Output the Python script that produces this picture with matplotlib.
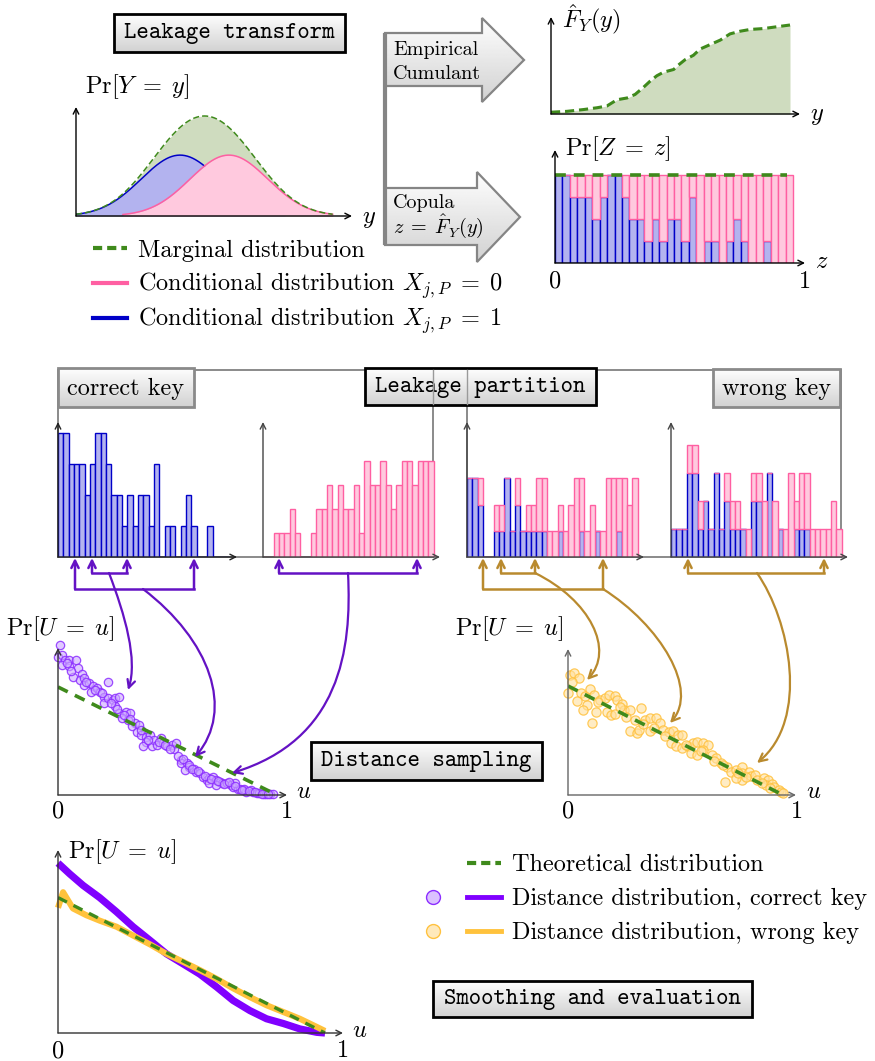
import numpy as np
import matplotlib
matplotlib.use('Agg')
import matplotlib.pyplot as plt
from matplotlib.patches import Polygon, Rectangle, FancyArrowPatch
from matplotlib.path import Path

# ---------------------------------------------------------------- data
# conditional leakage distributions (Gaussian parameters, y axis in [0,1])
COND_MEAN_X0 = 0.554
COND_MEAN_X1 = 0.377
COND_SIGMA = 0.141
COND_RANGE_X0 = (0.17, 0.93)
COND_RANGE_X1 = (0.0, 0.757)

# empirical cumulant F_Y(y)
CDF_Y = [0.0, 0.067, 0.136, 0.192, 0.234, 0.276, 0.318, 0.352, 0.387, 0.415, 0.443,
         0.471, 0.513, 0.533, 0.561, 0.596, 0.624, 0.666, 0.708, 0.749, 0.791, 0.833,
         0.889, 0.944, 1.0]
CDF_F = [0.02, 0.03, 0.05, 0.07, 0.09, 0.16, 0.18, 0.22, 0.30, 0.37, 0.43, 0.47, 0.50,
         0.55, 0.61, 0.66, 0.73, 0.78, 0.83, 0.90, 0.93, 0.95, 0.96, 0.98, 1.0]

# copula histogram counts (32 bins): correct key partition
CORRECT_X1 = [4, 4, 3, 3, 3, 2, 3, 4, 4, 3, 2, 2, 1, 2, 1, 2, 2, 1, 3, 0, 1, 1, 0, 1, 2, 1, 0, 0, 1, 0, 0, 0]
CORRECT_X0 = [0, 0, 1, 1, 1, 2, 1, 0, 0, 1, 2, 2, 3, 2, 3, 2, 2, 3, 1, 4, 3, 3, 4, 3, 2, 3, 4, 4, 3, 4, 4, 4]
# wrong key partition (two classes, each stacked X=1 / X=0)
WRONG_A_X1 = [3, 3, 2, 0, 0, 1, 1, 3, 1, 2, 1, 1, 1, 1, 1, 0, 0, 1, 0, 0, 0, 1, 0, 0, 1, 0, 0, 0, 1, 0, 0, 0]
WRONG_A_X0 = [0, 0, 1, 0, 0, 1, 1, 0, 0, 1, 0, 1, 1, 2, 2, 1, 1, 1, 1, 2, 3, 2, 1, 2, 0, 1, 3, 3, 2, 3, 2, 3]
WRONG_B_X1 = [1, 1, 1, 3, 3, 1, 2, 1, 3, 1, 2, 1, 1, 1, 0, 2, 2, 0, 3, 0, 1, 0, 0, 1, 1, 1, 0, 0, 0, 0, 0, 0]
WRONG_B_X0 = [0, 0, 0, 1, 1, 1, 0, 0, 0, 0, 1, 1, 1, 0, 1, 1, 1, 2, 0, 2, 0, 1, 3, 1, 2, 2, 1, 1, 1, 1, 2, 1]

# theoretical distance distribution
THEORY_U = [0.0, 1.0]
THEORY_P = [2.0, 0.0]

# sampled distances, correct key
CK_U = [0.01, 0.00, 0.02, 0.03, 0.02, 0.05, 0.08, 0.05, 0.09, 0.07, 0.11, 0.10, 0.12, 0.12, 0.14,
        0.16, 0.15, 0.18, 0.19, 0.23, 0.21, 0.21, 0.23, 0.25, 0.26, 0.28, 0.26, 0.28, 0.31, 0.33,
        0.29, 0.32, 0.35, 0.34, 0.37, 0.36, 0.38, 0.40, 0.42, 0.40, 0.39, 0.43, 0.44, 0.47, 0.45,
        0.48, 0.50, 0.52, 0.53, 0.54, 0.56, 0.56, 0.59, 0.60, 0.58, 0.62, 0.63, 0.65, 0.66, 0.68,
        0.69, 0.71, 0.72, 0.74, 0.75, 0.77, 0.79, 0.80, 0.82, 0.83, 0.85, 0.86, 0.88, 0.89, 0.91,
        0.92, 0.94, 0.95, 0.97, 0.98, 0.69, 0.72, 0.81, 0.85,
        0.04, 0.06, 0.13, 0.17, 0.20, 0.24, 0.27, 0.30, 0.33, 0.38, 0.41, 0.46, 0.49, 0.51, 0.55,
        0.57, 0.60, 0.61, 0.64, 0.67, 0.70, 0.73, 0.76, 0.78, 0.81, 0.84, 0.87, 0.90, 0.93, 0.96]
CK_P = [2.78, 2.56, 2.59, 2.50, 2.41, 2.50, 2.50, 2.38, 2.35, 2.19, 2.25, 2.13, 2.16, 2.04, 2.07,
        2.01, 1.91, 1.98, 1.91, 2.10, 1.82, 1.71, 1.79, 1.76, 1.79, 1.82, 1.64, 1.51, 1.54, 1.51,
        1.42, 1.39, 1.33, 1.27, 1.30, 1.17, 1.11, 1.08, 1.11, 0.99, 0.90, 0.90, 1.02, 1.05, 0.93,
        0.96, 0.90, 0.93, 0.86, 0.96, 0.65, 0.59, 0.59, 0.52, 0.46, 0.49, 0.43, 0.40, 0.34, 0.28,
        0.31, 0.34, 0.28, 0.25, 0.22, 0.22, 0.19, 0.15, 0.12, 0.12, 0.09, 0.06, 0.09, 0.06, 0.03,
        0.03, 0.02, 0.02, 0.01, 0.01, 0.22, 0.19, 0.22, 0.12,
        2.45, 2.30, 2.10, 1.95, 1.88, 1.70, 1.60, 1.48, 1.40, 1.20, 1.02, 0.98, 0.92, 0.85, 0.72,
        0.66, 0.56, 0.48, 0.44, 0.36, 0.30, 0.26, 0.20, 0.24, 0.16, 0.10, 0.08, 0.05, 0.02, 0.01]

# sampled distances, wrong key
WK_U = [0.01, 0.03, 0.05, 0.02, 0.00, 0.06, 0.08, 0.10, 0.12, 0.04, 0.09, 0.07, 0.13, 0.11, 0.15,
        0.17, 0.19, 0.22, 0.23, 0.25, 0.18, 0.20, 0.22, 0.26, 0.29, 0.34, 0.27, 0.31, 0.29, 0.32,
        0.33, 0.36, 0.38, 0.41, 0.43, 0.38, 0.40, 0.44, 0.47, 0.49, 0.51, 0.53, 0.48, 0.50, 0.53,
        0.56, 0.58, 0.60, 0.63, 0.65, 0.57, 0.60, 0.63, 0.67, 0.69, 0.71, 0.73, 0.74, 0.76, 0.78,
        0.81, 0.81, 0.84, 0.85, 0.87, 0.88, 0.91, 0.93, 0.92, 0.95, 0.96, 0.98, 0.99, 1.00, 0.81,
        0.78, 0.14, 0.24, 0.35, 0.45, 0.55, 0.62, 0.68, 0.72, 0.79, 0.83, 0.90, 0.94]
WK_P = [2.20, 2.23, 2.14, 2.08, 1.88, 1.88, 1.81, 1.94, 1.84, 1.72, 1.66, 1.56, 1.52, 1.32, 1.75,
        1.78, 1.84, 1.81, 1.75, 1.67, 1.53, 1.47, 1.49, 1.56, 1.56, 1.60, 1.44, 1.38, 1.17, 1.13,
        1.20, 1.38, 1.41, 1.41, 1.32, 1.17, 1.23, 1.20, 1.15, 1.17, 1.10, 1.10, 0.95, 0.89, 0.86,
        0.89, 0.95, 0.98, 0.95, 0.92, 0.77, 0.74, 0.83, 0.74, 0.67, 0.58, 0.23, 0.52, 0.43, 0.46,
        0.52, 0.40, 0.43, 0.34, 0.37, 0.28, 0.31, 0.28, 0.18, 0.21, 0.15, 0.10, 0.06, 0.03, 0.28,
        0.31, 1.70, 1.62, 1.30, 1.08, 0.92, 0.80, 0.62, 0.55, 0.40, 0.33, 0.22, 0.12]

# smoothed distance distributions
SMOOTH_CK_U = [0.0, 0.044, 0.094, 0.156, 0.219, 0.281, 0.344, 0.406, 0.469, 0.531, 0.594,
               0.656, 0.719, 0.781, 0.844, 0.906, 0.969, 1.0]
SMOOTH_CK_P = [2.51, 2.35, 2.18, 2.00, 1.79, 1.57, 1.37, 1.17, 1.02, 0.87, 0.68, 0.48, 0.33,
               0.21, 0.14, 0.06, 0.01, 0.0]
SMOOTH_WK_U = [0.0, 0.019, 0.056, 0.106, 0.156, 0.219, 0.281, 0.344, 0.406, 0.469, 0.531,
               0.594, 0.656, 0.719, 0.781, 0.844, 0.906, 0.969, 1.0]
SMOOTH_WK_P = [1.85, 2.08, 1.84, 1.74, 1.66, 1.57, 1.44, 1.31, 1.17, 1.05, 0.93, 0.80, 0.66,
               0.53, 0.41, 0.31, 0.21, 0.09, 0.03]

# ---------------------------------------------------------------- style
GREEN = '#3f8a1c'
GREEN_FILL = '#cfdcbf'
BLUE = '#0000c8'
BLUE_FILL = '#b3b3ef'
PINK = '#ff5fa2'
PINK_FILL = '#ffc9de'
VIOLET = '#8000ff'
GOLD = '#ffc23c'
PURPLE_ARROW = '#6412c4'
GOLD_ARROW = '#b98a2e'
AXIS = '#333333'

plt.rcParams['mathtext.fontset'] = 'cm'
plt.rcParams['font.family'] = ['cmr10', 'DejaVu Serif']
plt.rcParams['axes.formatter.use_mathtext'] = True
plt.rcParams['axes.unicode_minus'] = False

W, H = 875, 1061
fig = plt.figure(figsize=(W / 100, H / 100), dpi=100)
FS = 17.5
TT = 'cmtt10'


def rect(x0, ytop, x1, ybot):
    return [x0 / W, 1 - ybot / H, (x1 - x0) / W, (ybot - ytop) / H]


def overlay(z):
    a = fig.add_axes([0, 0, 1, 1], zorder=z)
    a.set_xlim(0, W)
    a.set_ylim(H, 0)
    a.axis('off')
    a.patch.set_alpha(0)
    return a


bg = overlay(0)
fg = overlay(20)


def plot_axes(x0, ytop, x1, ybot, color=AXIS):
    a = fig.add_axes(rect(x0, ytop, x1, ybot), zorder=5)
    a.patch.set_alpha(0)
    for s in a.spines.values():
        s.set_visible(False)
    a.set_xticks([])
    a.set_yticks([])
    kw = dict(arrowstyle='->', lw=1.0, color=color, shrinkA=0, shrinkB=0, mutation_scale=10)
    a.annotate('', xy=(1, 0), xytext=(0, 0), xycoords='axes fraction', arrowprops=kw, zorder=10)
    a.annotate('', xy=(0, 1), xytext=(0, 0), xycoords='axes fraction', arrowprops=kw, zorder=10)
    return a


def T(x, y, s, size=FS, ha='left', va='baseline', **kw):
    fg.text(x, y, s, size=size, ha=ha, va=va, **kw)


GRAD = np.linspace(0.995, 0.82, 64).reshape(-1, 1)


def grad_patch(patch, x0, y0, x1, y1, z=3):
    patch.set_zorder(z + 0.5)
    fg.add_patch(patch)
    im = fg.imshow(GRAD, extent=(x0, x1, y1, y0), origin='upper', cmap='gray',
                   vmin=0, vmax=1, aspect='auto', zorder=z, interpolation='bilinear')
    im.set_clip_path(patch)


def tbox(x0, y0, x1, y1, text, family, ec, lw, size=FS):
    r = Rectangle((x0, y0), x1 - x0, y1 - y0, fc='none', ec=ec, lw=lw)
    grad_patch(r, x0, y0, x1, y1)
    fg.text((x0 + x1) / 2, (y0 + y1) / 2 + 1, text, ha='center', va='center',
            family=family, size=size, zorder=5)


EQ = r'\;=\;'

# ---------------------------------------------------------------- panel 1: leakage distributions
ax1 = plot_axes(76, 107, 352, 216, color='black')
ax1.set_xlim(0, 1)
ax1.set_ylim(0, 1.79)
g = lambda x, m: np.exp(-0.5 * ((x - m) / COND_SIGMA) ** 2)
xm = np.linspace(0, COND_RANGE_X0[1], 400)
x1s = np.linspace(*COND_RANGE_X1, 400)
x0s = np.linspace(*COND_RANGE_X0, 400)
marg = g(xm, COND_MEAN_X0) + g(xm, COND_MEAN_X1)
ax1.fill_between(xm, marg, color=GREEN_FILL, lw=0, zorder=1)
ax1.fill_between(x1s, g(x1s, COND_MEAN_X1), color=BLUE_FILL, lw=0, zorder=2)
ax1.plot(x1s, g(x1s, COND_MEAN_X1), color=BLUE, lw=1.1, zorder=2.5)
ax1.fill_between(x0s, g(x0s, COND_MEAN_X0), color=PINK_FILL, lw=0, zorder=3)
ax1.plot(x0s, g(x0s, COND_MEAN_X0), color=PINK, lw=1.1, zorder=3.5)
ax1.plot(xm, marg, color=GREEN, lw=1.1, dashes=(4, 2), zorder=4)
T(85, 93, r'$\mathrm{Pr}[Y' + EQ + r'y]$')
T(362, 223, r'$y$')

# legend of panel 1
fg.plot([93, 127], [248, 248], color=GREEN, lw=3, dashes=(2.2, 1.2))
fg.plot([93, 127], [283, 283], color=PINK, lw=3)
fg.plot([93, 127], [318, 318], color=BLUE, lw=3)
T(138, 257, 'Marginal distribution')
T(138, 291, r'Conditional distribution $X_{j,P}' + EQ + r'0$')
T(138, 326, r'Conditional distribution $X_{j,P}' + EQ + r'1$')

tbox(114, 14, 345, 52, 'Leakage transform', TT, 'black', 2.0, size=17)

# ---------------------------------------------------------------- block arrows
for poly in ([(385, 33), (482, 33), (482, 18), (524, 60), (482, 102), (482, 86), (385, 86)],
             [(385, 188), (477, 188), (477, 172), (520, 217), (477, 262), (477, 245), (385, 245)]):
    p = Polygon(poly, closed=True, fc='none', ec='#858585', lw=1.6)
    ys = [q[1] for q in poly]
    grad_patch(p, 385, min(ys), 524, max(ys), z=2)
fg.plot([385, 385], [33, 245], color='#858585', lw=3, solid_capstyle='butt', zorder=4)
T(393, 55, 'Empirical', size=14.5)
T(393, 79, 'Cumulant', size=14.5)
T(393, 208, 'Copula', size=14.5)
T(393, 233, r'$z' + EQ + r'\hat{F}_Y(y)$', size=14.5)

# ---------------------------------------------------------------- panel 2: empirical CDF
ax2 = plot_axes(551, 17, 800, 114, color='black')
ax2.set_xlim(0, 249 / 239)
ax2.set_ylim(0, 97 / 89)
ax2.fill_between(CDF_Y, CDF_F, color=GREEN_FILL, lw=0)
ax2.plot(CDF_Y, CDF_F, color=GREEN, lw=2.2, dashes=(3, 1.6))
T(562, 27, r'$\hat{F}_Y(y)$')
T(810, 120, r'$y$')

# ---------------------------------------------------------------- panel 3: copula histogram
NB = len(CORRECT_X1)
edges = np.arange(NB) / NB
ax3 = plot_axes(555, 150, 805, 263, color='black')
ax3.set_xlim(0, 250 / 238)
ax3.set_ylim(0, 4 * 113 / 88)
tot = np.array(CORRECT_X1) + np.array(CORRECT_X0)
ax3.bar(edges, CORRECT_X1, width=1 / NB, align='edge', color=BLUE_FILL, edgecolor=BLUE, lw=1.0)
ax3.bar(edges, CORRECT_X0, bottom=CORRECT_X1, width=1 / NB, align='edge', color=PINK_FILL,
        edgecolor=PINK, lw=1.0)
ax3.plot([0, 0.975], [tot.max(), tot.max()], color=GREEN, lw=2.6, dashes=(3, 2.2))
T(565, 155, r'$\mathrm{Pr}[Z' + EQ + r'z]$')
T(815, 268, r'$z$')
T(555, 288, '0', ha='center')
T(805, 288, '1', ha='center')

# ---------------------------------------------------------------- leakage partition
bg.add_patch(Rectangle((58, 370), 433 - 58, 557 - 370, fc='none', ec='#8a8a8a', lw=1.4))
bg.add_patch(Rectangle((467, 370), 841 - 467, 557 - 370, fc='none', ec='#8a8a8a', lw=1.4))
HIST_TOP = 135 / 1730


def hist(x0, x1, lower, upper, color):
    a = plot_axes(x0, 422, x1, 557, color=color)
    n = sum(lower) + sum(upper)
    a.set_xlim(0, (x1 - x0) / 5.333)
    a.set_ylim(0, HIST_TOP)
    lo = np.array(lower) / n
    up = np.array(upper) / n
    bins = np.arange(len(lower))
    if sum(lower):
        a.bar(bins, lo, width=1, align='edge', color=BLUE_FILL, edgecolor=BLUE, lw=1.0)
    if sum(upper):
        a.bar(bins, up, bottom=lo, width=1, align='edge', color=PINK_FILL, edgecolor=PINK, lw=1.0)
    return a


hist(58, 237, CORRECT_X1, [0] * NB, '#222222')
hist(263, 440, [0] * NB, CORRECT_X0, '#444444')
hist(467, 644, WRONG_A_X1, WRONG_A_X0, '#444444')
hist(671, 848, WRONG_B_X1, WRONG_B_X0, '#444444')

tbox(58, 368, 194, 407, 'correct key', None, '#8a8a8a', 2.0)
tbox(713, 369, 840, 407, 'wrong key', None, '#8a8a8a', 2.0)
tbox(365, 368, 596, 405, 'Leakage partition', TT, 'black', 2.0, size=17)
fg.plot([433, 433], [370, 404], color='#9a9a9a', lw=1.0, zorder=6)
fg.plot([467, 467], [370, 404], color='#9a9a9a', lw=1.0, zorder=6)


# brackets and arrows
def up_arrow(x, y, color):
    fg.annotate('', xy=(x, 558), xytext=(x, y),
                arrowprops=dict(arrowstyle='->', color=color, lw=1.8, shrinkA=0, shrinkB=0,
                                mutation_scale=13))


def bracket(xa, xb, y, color):
    fg.plot([xa, xb], [y, y], color=color, lw=1.8, solid_capstyle='projecting')
    up_arrow(xa, y, color)
    up_arrow(xb, y, color)


def curve(pts, color):
    path = Path(pts, [Path.MOVETO, Path.CURVE4, Path.CURVE4, Path.CURVE4])
    fg.add_patch(FancyArrowPatch(path=path, arrowstyle='->', color=color, lw=1.6,
                                 mutation_scale=14, shrinkA=0, shrinkB=0, zorder=8))


bracket(92, 127, 573, PURPLE_ARROW)
bracket(75, 194, 589, PURPLE_ARROW)
bracket(279, 417, 573, PURPLE_ARROW)
bracket(501, 535, 573, GOLD_ARROW)
bracket(483, 603, 589, GOLD_ARROW)
bracket(688, 824, 573, GOLD_ARROW)

curve([(109, 573), (125, 615), (138, 660), (128, 690)], PURPLE_ARROW)
curve([(143, 589), (210, 640), (235, 710), (195, 757)], PURPLE_ARROW)
curve([(348, 573), (352, 650), (340, 740), (232, 773)], PURPLE_ARROW)
curve([(535, 573), (590, 600), (615, 650), (587, 680)], GOLD_ARROW)
curve([(603, 589), (660, 625), (700, 690), (670, 723)], GOLD_ARROW)
curve([(757, 573), (790, 620), (810, 720), (757, 763)], GOLD_ARROW)

# ---------------------------------------------------------------- distance sampling
axL = plot_axes(58, 648, 287, 795, color='#333333')
axL.set_xlim(0, 229 / 219)
axL.set_ylim(0, 147 / 54)
axL.scatter(CK_U, CK_P, s=36, facecolor=(0.80, 0.66, 1.0, 0.6), edgecolor=(0.55, 0.18, 1.0, 0.85),
            lw=0.9, zorder=3, clip_on=False)
axL.plot(THEORY_U, THEORY_P, color=GREEN, lw=2.6, dashes=(3, 2.2), zorder=4)
T(6, 635, r'$\mathrm{Pr}[U' + EQ + r'u]$')
T(296, 798, r'$u$')
T(58, 818, '0', ha='center')
T(287, 818, '1', ha='center')

axR = plot_axes(568, 649, 796, 795, color='#666666')
axR.set_xlim(0, 228 / 215)
axR.set_ylim(0, 146 / 54.5)
axR.scatter(WK_U, WK_P, s=44, facecolor=(1.0, 0.88, 0.62, 0.6), edgecolor=(1.0, 0.76, 0.25, 0.85),
            lw=0.9, zorder=3, clip_on=False)
axR.plot(THEORY_U, THEORY_P, color=GREEN, lw=2.6, dashes=(3, 2.2), zorder=4)
T(455, 635, r'$\mathrm{Pr}[U' + EQ + r'u]$')
T(806, 798, r'$u$')
T(568, 818, '0', ha='center')
T(797, 818, '1', ha='center')

tbox(311, 742, 542, 780, 'Distance sampling', TT, 'black', 2.0, size=17)

# ---------------------------------------------------------------- smoothing and evaluation
axB = plot_axes(58, 850, 343, 1033, color='#333333')
axB.set_xlim(0, 285 / 267)
axB.set_ylim(0, 183 / 67.7)
axB.plot(SMOOTH_CK_U, SMOOTH_CK_P, color=VIOLET, lw=5.2, solid_capstyle='butt',
         solid_joinstyle='round', zorder=3, clip_on=False)
axB.plot(SMOOTH_WK_U, SMOOTH_WK_P, color=GOLD, lw=4.4, solid_capstyle='butt',
         solid_joinstyle='round', zorder=4, clip_on=False)
axB.plot(THEORY_U, THEORY_P, color=GREEN, lw=2.4, dashes=(3, 2.2), zorder=5)
T(68, 858, r'$\mathrm{Pr}[U' + EQ + r'u]$')
T(352, 1037, r'$u$')
T(58, 1057, '0', ha='center')
T(343, 1057, '1', ha='center')

# legend
fg.plot([467, 501], [863, 863], color=GREEN, lw=3, dashes=(2.2, 1.2))
fg.plot([467, 501], [897, 897], color=VIOLET, lw=3.5)
fg.plot([467, 501], [931, 931], color=GOLD, lw=3.5)
fg.plot([433], [897], 'o', ms=10, mfc=(0.80, 0.66, 1.0, 0.7), mec=(0.55, 0.18, 1.0), mew=1)
fg.plot([433], [931], 'o', ms=10, mfc=(1.0, 0.88, 0.62, 0.7), mec=(1.0, 0.76, 0.25), mew=1)
T(512, 871, 'Theoretical distribution')
T(512, 905, 'Distance distribution, correct key')
T(512, 939, 'Distance distribution, wrong key')

tbox(433, 981, 752, 1017, 'Smoothing and evaluation', TT, 'black', 2.0, size=17)

fg.set_xlim(0, W)
fg.set_ylim(H, 0)
fig.savefig('out.png', dpi=100)
